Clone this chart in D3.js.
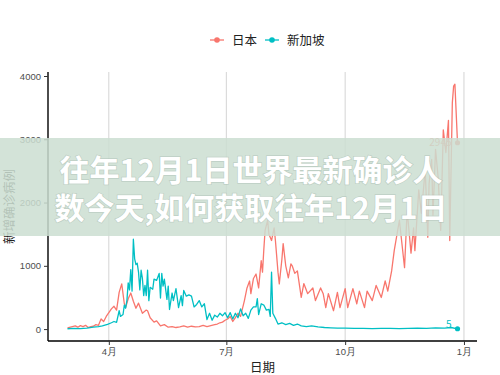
<!DOCTYPE html>
<html>
<head>
<meta charset="utf-8">
<script src="https://cdn.jsdelivr.net/npm/d3@7/dist/d3.min.js"></script>
<style>
    body { margin: 0; background: #fff; }
    svg { display: block; font-family: "Noto Sans CJK SC", "Noto Sans", sans-serif; }
</style>
</head>
<body>
<svg id="chart" width="500" height="375"></svg>
<script>
// 日本 每日新增
const jpDates = ["2020-02-29","2020-03-03","2020-03-06","2020-03-08","2020-03-10","2020-03-12","2020-03-14","2020-03-16","2020-03-18","2020-03-20",
    "2020-03-22","2020-03-24","2020-03-26","2020-03-28","2020-03-30","2020-04-01","2020-04-03","2020-04-05","2020-04-07","2020-04-09",
    "2020-04-11","2020-04-13","2020-04-14","2020-04-16","2020-04-18","2020-04-20","2020-04-22","2020-04-24","2020-04-27","2020-04-30",
    "2020-05-01","2020-05-03","2020-05-06","2020-05-08","2020-05-11","2020-05-14","2020-05-17","2020-05-20","2020-05-23","2020-05-26",
    "2020-05-29","2020-06-01","2020-06-04","2020-06-07","2020-06-10","2020-06-13","2020-06-16","2020-06-19","2020-06-22","2020-06-24",
    "2020-06-26","2020-06-28","2020-06-30","2020-07-02","2020-07-04","2020-07-06","2020-07-08","2020-07-10","2020-07-12","2020-07-15",
    "2020-07-17","2020-07-19","2020-07-20","2020-07-22","2020-07-24","2020-07-26","2020-07-28","2020-07-29","2020-07-30","2020-07-31",
    "2020-08-02","2020-08-03","2020-08-05","2020-08-07","2020-08-08","2020-08-10","2020-08-11","2020-08-13","2020-08-14","2020-08-16",
    "2020-08-18","2020-08-20","2020-08-21","2020-08-23","2020-08-25","2020-08-28","2020-08-30","2020-09-02","2020-09-06","2020-09-08",
    "2020-09-12","2020-09-14","2020-09-16","2020-09-18","2020-09-22","2020-09-25","2020-09-27","2020-10-01","2020-10-03","2020-10-07",
    "2020-10-10","2020-10-12","2020-10-16","2020-10-18","2020-10-22","2020-10-25","2020-10-29","2020-11-01","2020-11-03","2020-11-06",
    "2020-11-08","2020-11-12","2020-11-16","2020-11-18","2020-11-21","2020-11-23","2020-11-24","2020-11-27","2020-11-29","2020-12-02",
    "2020-12-04","2020-12-05","2020-12-07","2020-12-08","2020-12-10","2020-12-12","2020-12-14","2020-12-16","2020-12-18","2020-12-20",
    "2020-12-21","2020-12-23","2020-12-24","2020-12-25","2020-12-27"];
const jpCases = [20,35,50,30,55,40,60,25,40,45,
    70,60,160,120,200,260,320,360,300,580,
    715,400,340,480,570,440,330,410,250,300,
    290,180,110,130,50,70,30,40,25,35,
    50,30,45,35,40,60,40,55,70,80,
    100,110,140,160,200,120,180,250,200,450,
    650,760,560,800,870,650,1080,900,1250,1560,
    1720,1500,1400,1600,1400,900,715,1100,1350,1000,
    810,1030,1000,880,920,500,720,560,650,450,
    650,560,340,560,290,580,340,640,340,640,
    400,600,340,600,450,690,500,760,600,920,
    1240,1720,970,1880,1200,1600,1240,2200,1830,2520,
    1450,2300,2680,1800,2840,2400,1560,3150,2790,3300,
    1400,3580,3840,3870,2945];

// 新加坡 每日新增
const sgDates = ["2020-02-29","2020-03-05","2020-03-10","2020-03-15","2020-03-20","2020-03-24","2020-03-27","2020-03-31","2020-04-03","2020-04-05",
    "2020-04-07","2020-04-09","2020-04-10","2020-04-12","2020-04-13","2020-04-14","2020-04-15","2020-04-16","2020-04-17","2020-04-18",
    "2020-04-19","2020-04-20","2020-04-21","2020-04-22","2020-04-23","2020-04-24","2020-04-25","2020-04-26","2020-04-27","2020-04-28",
    "2020-04-29","2020-04-30","2020-05-01","2020-05-02","2020-05-03","2020-05-05","2020-05-06","2020-05-08","2020-05-10","2020-05-11",
    "2020-05-12","2020-05-13","2020-05-14","2020-05-16","2020-05-17","2020-05-18","2020-05-20","2020-05-21","2020-05-23","2020-05-25",
    "2020-05-27","2020-05-28","2020-05-29","2020-05-31","2020-06-02","2020-06-04","2020-06-06","2020-06-08","2020-06-10","2020-06-12",
    "2020-06-14","2020-06-16","2020-06-18","2020-06-20","2020-06-22","2020-06-24","2020-06-26","2020-06-28","2020-06-30","2020-07-02",
    "2020-07-04","2020-07-06","2020-07-08","2020-07-10","2020-07-12","2020-07-14","2020-07-16","2020-07-18","2020-07-20","2020-07-22",
    "2020-07-24","2020-07-25","2020-07-26","2020-07-28","2020-07-30","2020-08-01","2020-08-03","2020-08-04","2020-08-05","2020-08-06",
    "2020-08-08","2020-08-10","2020-08-13","2020-08-16","2020-08-19","2020-08-22","2020-08-25","2020-08-28","2020-09-01","2020-09-05",
    "2020-09-10","2020-09-15","2020-09-20","2020-09-25","2020-10-01","2020-10-08","2020-10-15","2020-10-22","2020-10-29","2020-11-05",
    "2020-11-12","2020-11-19","2020-11-26","2020-12-03","2020-12-10","2020-12-17","2020-12-22","2020-12-27"];
const sgCases = [5,10,8,15,30,40,50,75,100,120,
    106,290,200,230,380,330,450,730,620,940,
    600,1420,1110,1020,1040,900,620,930,800,530,
    690,530,930,450,660,630,790,770,880,490,
    880,680,790,470,680,310,570,450,640,340,
    530,370,610,520,540,520,350,390,450,350,
    400,150,250,140,220,190,250,210,260,180,
    260,160,250,180,320,210,250,170,300,350,
    350,480,230,400,380,300,310,200,900,250,
    170,80,100,70,90,60,80,50,40,50,
    35,25,20,15,15,10,12,8,10,12,
    8,10,15,10,20,15,25,5];

const seriesNames = ["日本", "新加坡"];
const seriesColors = ["#F8766D", "#00BFC4"];
const yTicks = [0, 1000, 2000, 3000, 4000];
const xTickDates = ["2020-04-01", "2020-07-01", "2020-10-01", "2021-01-01"];
const xTickLabels = ["4月", "7月", "10月", "1月"];

const parse = d3.timeParse("%Y-%m-%d");
const series = [
    {name: seriesNames[0], color: seriesColors[0], values: jpDates.map((d, i) => ({date: parse(d), v: jpCases[i]}))},
    {name: seriesNames[1], color: seriesColors[1], values: sgDates.map((d, i) => ({date: parse(d), v: sgCases[i]}))}
];

const svg = d3.select('#chart');
const margin = {left: 48, right: 23, top: 72, bottom: 34};
const W = 500, H = 375;

// ggplot 风格 5% 扩展
const all = series.flatMap(s => s.values);
const tExt = d3.extent(all, d => d.date);
const tPad = (tExt[1] - tExt[0]) * 0.05;
const xScale = d3.scaleTime()
    .domain([new Date(+tExt[0] - tPad), new Date(+tExt[1] + tPad)])
    .range([margin.left, W - margin.right]);

const vExt = d3.extent(all, d => d.v);
const vPad = (vExt[1] - vExt[0]) * 0.05;
const yScale = d3.scaleLinear()
    .domain([vExt[0] - vPad, vExt[1] + vPad])
    .range([H - margin.bottom, margin.top]);

// 竖向网格线
svg.append('g')
    .selectAll('line')
    .data(xTickDates)
    .join('line')
    .attr('x1', d => xScale(parse(d)))
    .attr('x2', d => xScale(parse(d)))
    .attr('y1', margin.top)
    .attr('y2', H - margin.bottom)
    .attr('stroke', '#d4d4d4')
    .attr('stroke-width', 1);

const line = d3.line()
    .x(d => xScale(d.date))
    .y(d => yScale(d.v));

series.forEach(s => {
    svg.append('path')
        .datum(s.values)
        .attr('d', line)
        .attr('fill', 'none')
        .attr('stroke', s.color)
        .attr('stroke-width', 1.3)
        .attr('stroke-linejoin', 'round');

    const last = s.values[s.values.length - 1];
    svg.append('circle')
        .attr('cx', xScale(last.date))
        .attr('cy', yScale(last.v))
        .attr('r', 2.6)
        .attr('fill', s.color);
    svg.append('text')
        .attr('x', xScale(last.date) - 6)
        .attr('y', yScale(last.v) + (last.v > 100 ? 3 : -1))
        .attr('text-anchor', 'end')
        .attr('font-size', 10)
        .attr('fill', s.color)
        .text(last.v);
});

// 坐标轴
const yAxis = d3.axisLeft(yScale).tickValues(yTicks).tickFormat(d3.format('d')).tickSize(4).tickPadding(3);
const gy = svg.append('g')
    .attr('transform', `translate(${margin.left},0)`)
    .call(yAxis);
gy.select('.domain').attr('d', `M0,${H - margin.bottom}V${margin.top}`).attr('stroke', '#000').attr('stroke-width', 1.4);
gy.selectAll('.tick line').attr('stroke', '#333');
gy.selectAll('text').attr('fill', '#4d4d4d').style('font-size', '9.5px');

const xAxis = d3.axisBottom(xScale)
    .tickValues(xTickDates.map(parse))
    .tickFormat((d, i) => xTickLabels[i])
    .tickSize(4).tickPadding(3);
const gx = svg.append('g')
    .attr('transform', `translate(0,${H - margin.bottom})`)
    .call(xAxis);
gx.select('.domain').attr('d', `M${margin.left},0H${W - margin.right}`).attr('stroke', '#000').attr('stroke-width', 1.4);
gx.selectAll('.tick line').attr('stroke', '#333');
gx.selectAll('text').attr('fill', '#4d4d4d').style('font-size', '9.5px');

svg.append('text')
    .attr('x', (margin.left + W - margin.right) / 2)
    .attr('y', 372)
    .attr('text-anchor', 'middle')
    .attr('font-size', 12.5)
    .attr('fill', '#222')
    .text('日期');

svg.append('text')
    .attr('transform', `translate(14,${(margin.top + H - margin.bottom) / 2}) rotate(-90)`)
    .attr('text-anchor', 'middle')
    .attr('font-size', 12.5)
    .attr('fill', '#222')
    .text('新增确诊病例');

// 图例
const legend = svg.append('g').attr('transform', 'translate(210,40)');
const legX = [0, 55];
seriesNames.forEach((name, i) => {
    const g = legend.append('g').attr('transform', `translate(${legX[i]},0)`);
    g.append('line').attr('x1', 0).attr('x2', 14).attr('stroke', seriesColors[i]).attr('stroke-width', 1.3);
    g.append('circle').attr('cx', 7).attr('r', 2.8).attr('fill', seriesColors[i]);
    g.append('text').attr('x', 22).attr('y', 4.5).attr('font-size', 12.5).attr('fill', '#222').text(name);
});

// 标题横幅
svg.append('rect')
    .attr('x', 0).attr('y', 138)
    .attr('width', W).attr('height', 98)
    .attr('fill', 'rgb(203,222,209)')
    .attr('opacity', 0.85);

const banner = ["往年12月1日世界最新确诊人", "数今天,如何获取往年12月1日"];
svg.selectAll('.banner')
    .data(banner)
    .join('text')
    .attr('class', 'banner')
    .attr('x', 251)
    .attr('y', (d, i) => 181 + i * 38)
    .attr('text-anchor', 'middle')
    .attr('font-size', 30)
    .attr('font-weight', 'bold')
    .attr('fill', '#fff')
    .style('paint-order', 'stroke')
    .attr('stroke', 'rgba(150,170,160,0.35)')
    .attr('stroke-width', 1.5)
    .text(d => d);
</script>
</body>
</html>
